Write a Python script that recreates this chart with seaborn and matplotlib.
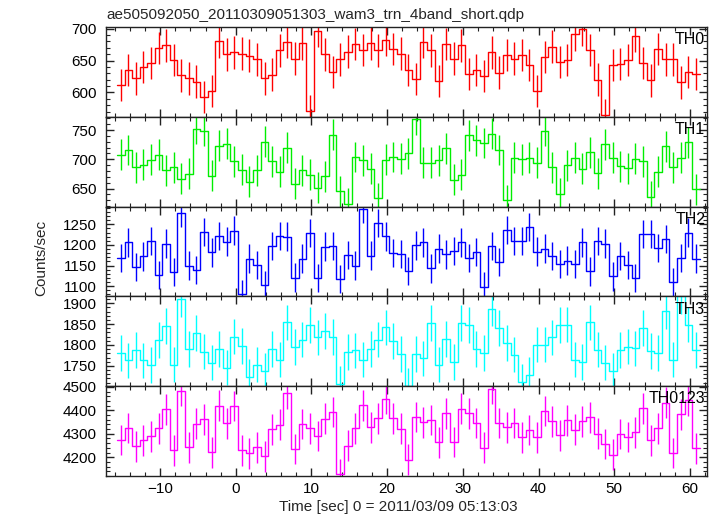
import numpy as np
import pandas as pd
import matplotlib
matplotlib.use("Agg")
import matplotlib.pyplot as plt
from matplotlib.ticker import MultipleLocator
import seaborn as sns

# --- datos (tasas en 1 s por banda) ---
bandas = ["TH0", "TH1", "TH2", "TH3", "TH0123"]
colores = ["#ff0000", "#00ee00", "#0000ff", "#00ffff", "#ff00ff"]
t_inicio = -15.7  # borde izquierdo del primer bin [s]

th0 = [612, 635, 622, 640, 646, 670, 674, 651, 627, 622,
       617, 593, 602, 680, 660, 663, 661, 658, 652, 622,
       628, 666, 679, 653, 677, 571, 697, 660, 632, 652,
       664, 676, 667, 677, 666, 683, 668, 661, 635, 621,
       679, 666, 618, 676, 653, 674, 629, 635, 626, 663,
       631, 659, 653, 659, 643, 602, 656, 672, 648, 651,
       691, 699, 667, 620, 564, 643, 645, 651, 689, 646,
       619, 668, 652, 652, 616, 632, 629]
th1 = [708, 716, 686, 691, 699, 708, 681, 686, 667, 675,
       752, 749, 672, 723, 727, 697, 682, 662, 681, 730,
       697, 679, 720, 658, 681, 674, 651, 671, 742, 645,
       624, 704, 698, 684, 633, 699, 704, 701, 710, 769,
       694, 694, 698, 719, 665, 674, 741, 733, 728, 744,
       716, 630, 703, 700, 703, 694, 749, 686, 641, 690,
       703, 684, 712, 676, 726, 703, 688, 685, 701, 697,
       636, 679, 722, 686, 703, 729, 649]
th2 = [1168, 1206, 1146, 1172, 1210, 1127, 1203, 1135, 1278, 1150,
       1139, 1231, 1182, 1222, 1208, 1235, 1081, 1167, 1152, 1103,
       1198, 1222, 1220, 1121, 1167, 1229, 1120, 1196, 1197, 1118,
       1176, 1150, 1288, 1174, 1253, 1221, 1180, 1178, 1137, 1199,
       1206, 1143, 1191, 1177, 1185, 1206, 1169, 1183, 1099, 1198,
       1158, 1236, 1210, 1210, 1243, 1184, 1191, 1173, 1154, 1162,
       1154, 1206, 1136, 1210, 1203, 1124, 1173, 1152, 1120, 1227,
       1227, 1193, 1214, 1109, 1169, 1230, 1167]
th3 = [1781, 1763, 1788, 1763, 1752, 1812, 1845, 1753, 1910, 1791,
       1829, 1784, 1758, 1790, 1746, 1820, 1797, 1724, 1753, 1738,
       1790, 1765, 1854, 1795, 1813, 1848, 1818, 1834, 1819, 1707,
       1783, 1787, 1765, 1791, 1813, 1842, 1810, 1778, 1702, 1778,
       1768, 1853, 1753, 1814, 1759, 1852, 1848, 1791, 1781, 1887,
       1840, 1805, 1777, 1711, 1729, 1801, 1801, 1818, 1848, 1849,
       1765, 1759, 1854, 1789, 1758, 1738, 1788, 1796, 1792, 1840,
       1785, 1781, 1881, 1765, 1917, 1849, 1788]
th0123 = [4274, 4325, 4247, 4272, 4289, 4323, 4404, 4230, 4482, 4243,
          4343, 4361, 4221, 4419, 4344, 4418, 4230, 4217, 4243, 4204,
          4319, 4339, 4472, 4235, 4342, 4323, 4291, 4364, 4393, 4128,
          4250, 4323, 4421, 4327, 4366, 4448, 4366, 4322, 4189, 4371,
          4349, 4359, 4264, 4388, 4265, 4407, 4388, 4346, 4240, 4492,
          4346, 4327, 4346, 4285, 4316, 4285, 4397, 4353, 4293, 4357,
          4318, 4353, 4370, 4301, 4257, 4211, 4299, 4286, 4306, 4409,
          4272, 4323, 4432, 4218, 4383, 4443, 4238]
errores = [25.5, 26.5, 34.5, 42.5, 65.5]

limites_y = [(562, 703), (619, 773), (1075, 1293), (1701, 1916), (4119, 4502)]
paso_mayor = [50, 50, 50, 50, 100]
paso_menor = [10, 10, 10, 10, 20]

series = [th0, th1, th2, th3, th0123]

# --- tabla larga ---
filas = []
for banda, valores in zip(bandas, series):
    for i, v in enumerate(valores):
        filas.append({"banda": banda, "tiempo": t_inicio + i + 0.5, "tasa": v})
df = pd.DataFrame(filas)

sns.set_theme(style="ticks")
plt.rcParams["font.family"] = ["Liberation Sans", "DejaVu Sans"]
plt.rcParams["font.size"] = 11

fig, axes = plt.subplots(5, 1, figsize=(7.17, 5.16), dpi=100, sharex=True,
                         gridspec_kw={"hspace": 0})
fig.subplots_adjust(left=0.148, right=0.986, top=0.948, bottom=0.077)

for k, (ax, banda, color) in enumerate(zip(axes, bandas, colores)):
    sub = df[df["banda"] == banda]
    bordes = np.append(sub["tiempo"].values - 0.5, sub["tiempo"].values[-1] + 0.5)
    y_esc = np.append(sub["tasa"].values, sub["tasa"].values[-1])
    sns.lineplot(x=bordes, y=y_esc, drawstyle="steps-post", color=color,
                 lw=1.0, estimator=None, ax=ax)
    ax.errorbar(sub["tiempo"], sub["tasa"], yerr=errores[k], fmt="none",
                ecolor=color, elinewidth=1.0, capsize=0)
    ax.set_ylim(*limites_y[k])
    ax.set_xlim(-17.13, 62.25)
    ax.yaxis.set_major_locator(MultipleLocator(paso_mayor[k]))
    ax.yaxis.set_minor_locator(MultipleLocator(paso_menor[k]))
    ax.xaxis.set_major_locator(MultipleLocator(10))
    ax.xaxis.set_minor_locator(MultipleLocator(2))
    ax.tick_params(which="both", direction="in", top=True, right=True,
                   colors="#222222", labelcolor="black", labelsize=11)
    ax.tick_params(which="major", length=6, width=1)
    ax.tick_params(which="minor", length=3, width=0.8)
    ax.tick_params(axis="y", pad=7)
    ax.tick_params(axis="x", pad=4)
    for s in ax.spines.values():
        s.set_color("#222222")
        s.set_linewidth(1.0)
    ax.set_xlabel("")
    ax.set_ylabel("")
    ax.text(0.997, 0.86, banda, transform=ax.transAxes, ha="right",
            va="center", fontsize=11.5, color="black")

fig.text(0.149, 1 - 15 / 516, "ae505092050_20110309051303_wam3_trn_4band_short.qdp",
         ha="left", va="center", fontsize=11)
fig.text(41 / 717, 1 - 258 / 516, "Counts/sec", rotation=90, ha="center",
         va="center", fontsize=11)
fig.text(398 / 717, 1 - 507 / 516, "Time [sec] 0 = 2011/03/09 05:13:03",
         ha="center", va="center", fontsize=11)

plt.savefig("out.png", dpi=100)
plt.close()
